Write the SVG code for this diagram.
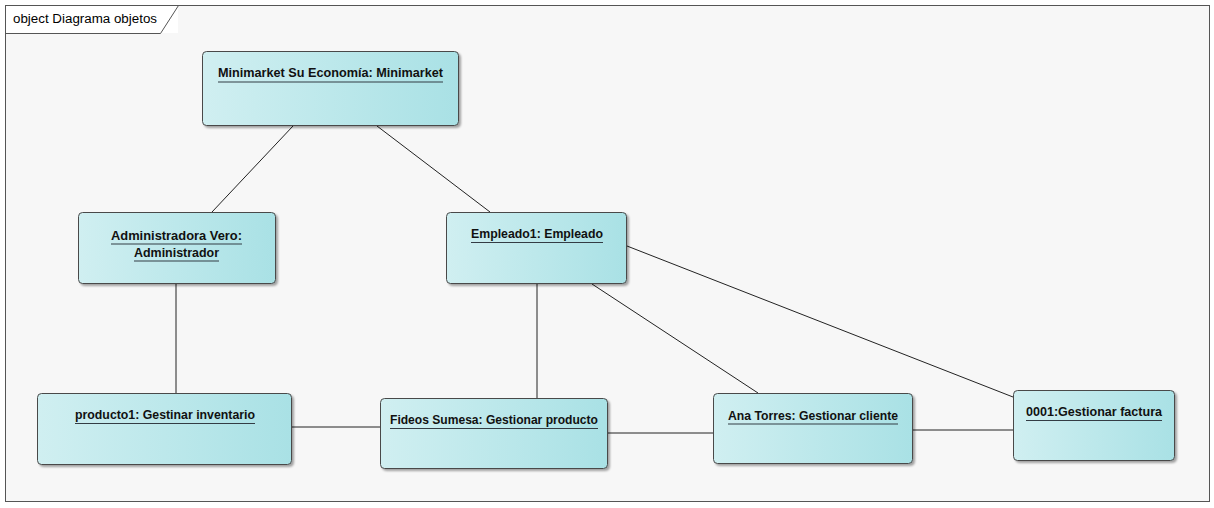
<svg xmlns="http://www.w3.org/2000/svg" width="1214" height="508" viewBox="0 0 1214 508">
<defs>
<linearGradient id="g" x1="0" y1="0" x2="1" y2="0">
<stop offset="0" stop-color="#d0eff1"/>
<stop offset="1" stop-color="#a9e1e5"/>
</linearGradient>
<filter id="sh" x="-5%" y="-5%" width="115%" height="125%">
<feDropShadow dx="2" dy="2" stdDeviation="1.2" flood-color="#000" flood-opacity="0.35"/>
</filter>
</defs>
<style>
.box{fill:url(#g);stroke:#4a4a4a;stroke-width:1;filter:url(#sh)}
.t{font-family:"Liberation Sans",Arial,sans-serif;font-weight:bold;font-size:12.5px;fill:#111;text-anchor:middle}
.u{stroke:#333c44;stroke-width:1.2}
.c{stroke:#222;stroke-width:1;fill:none}
.f{font-family:"Liberation Sans",Arial,sans-serif;font-size:12.5px;fill:#000}
</style>
<rect x="0" y="0" width="1214" height="508" fill="#ffffff"/>
<rect x="5.5" y="5.5" width="1204" height="496" fill="#f7f7f7" stroke="#555" stroke-width="1"/>
<rect x="6" y="6" width="172" height="27" fill="#fff"/>
<path d="M5.5 33.5 H160.5 L178.5 5.5" fill="none" stroke="#555" stroke-width="1"/>
<text class="f" x="13" y="23" textLength="144" lengthAdjust="spacingAndGlyphs">object Diagrama objetos</text>
<g id="connectors">
<line class="c" x1="293" y1="126" x2="212" y2="212"/>
<line class="c" x1="377" y1="126" x2="490" y2="212"/>
<line class="c" x1="176" y1="284" x2="176" y2="393"/>
<line class="c" x1="537" y1="284" x2="537" y2="398"/>
<line class="c" x1="592" y1="284" x2="758" y2="393"/>
<line class="c" x1="627" y1="246" x2="1013" y2="397"/>
<line class="c" x1="292" y1="427" x2="380" y2="427"/>
<line class="c" x1="608" y1="433" x2="713" y2="433"/>
<line class="c" x1="913" y1="430" x2="1013" y2="430"/>
</g>
<g id="minimarket">
<rect class="box" x="202.5" y="51.5" width="256" height="74" rx="4"/>
<text class="t" x="330.5" y="77" textLength="225" lengthAdjust="spacingAndGlyphs">Minimarket Su Economía: Minimarket</text>
<line class="u" x1="218" y1="82" x2="443" y2="82"/>
</g>
<g id="administradora">
<rect class="box" x="78.5" y="212.5" width="197" height="71" rx="4"/>
<text class="t" x="176.5" y="240" textLength="131" lengthAdjust="spacingAndGlyphs">Administradora Vero:</text>
<line class="u" x1="111" y1="244" x2="242" y2="244"/>
<text class="t" x="176.5" y="257" textLength="85" lengthAdjust="spacingAndGlyphs">Administrador</text>
<line class="u" x1="134" y1="261" x2="219" y2="261"/>
</g>
<g id="empleado1">
<rect class="box" x="446.5" y="212.5" width="180" height="71" rx="4"/>
<text class="t" x="537" y="238" textLength="132" lengthAdjust="spacingAndGlyphs">Empleado1: Empleado</text>
<line class="u" x1="471" y1="242.5" x2="603" y2="242.5"/>
</g>
<g id="producto1">
<rect class="box" x="37.5" y="393.5" width="254" height="71" rx="4"/>
<text class="t" x="165" y="419" textLength="180" lengthAdjust="spacingAndGlyphs">producto1: Gestinar inventario</text>
<line class="u" x1="75" y1="423.5" x2="255" y2="423.5"/>
</g>
<g id="fideos">
<rect class="box" x="380.5" y="398.5" width="227" height="70" rx="4"/>
<text class="t" x="494" y="424" textLength="208" lengthAdjust="spacingAndGlyphs">Fideos Sumesa: Gestionar producto</text>
<line class="u" x1="390" y1="428.5" x2="598" y2="428.5"/>
</g>
<g id="anatorres">
<rect class="box" x="713.5" y="393.5" width="199" height="70" rx="4"/>
<text class="t" x="813" y="419.5" textLength="170" lengthAdjust="spacingAndGlyphs">Ana Torres: Gestionar cliente</text>
<line class="u" x1="728" y1="424" x2="898" y2="424"/>
</g>
<g id="factura">
<rect class="box" x="1013.5" y="390.5" width="161" height="70" rx="4"/>
<text class="t" x="1094" y="416" textLength="136" lengthAdjust="spacingAndGlyphs">0001:Gestionar factura</text>
<line class="u" x1="1026" y1="420.5" x2="1162" y2="420.5"/>
</g>
</svg>
